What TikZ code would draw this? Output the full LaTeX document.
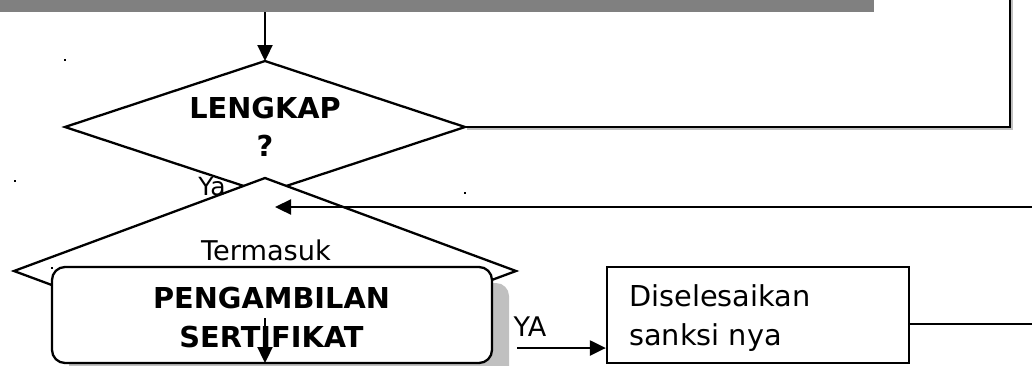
\documentclass[tikz,border=0pt]{standalone}
\usepackage{fontspec}
\setmainfont{DejaVu Sans}
\usetikzlibrary{shapes.geometric,arrows.meta}
\definecolor{bargray}{RGB}{128,128,128}
\definecolor{shadowgray}{RGB}{192,192,192}
\begin{document}
\begin{tikzpicture}[x=1pt,y=-1pt,
 line width=2.3pt,
 tip/.style={-{Triangle[length=16pt,width=15pt]}},
 dia/.style={diamond,draw,fill=white,inner sep=0pt,outer sep=0pt},
 lbl/.style={anchor=base,inner sep=0pt,font=\fontsize{28.8}{34}\selectfont},
 blbl/.style={anchor=base,inner sep=0pt,font=\fontsize{28.8}{34}\selectfont\bfseries},
 dot/.style={fill=black,inner sep=0pt,minimum size=2.5pt},
]
\useasboundingbox (0,0) rectangle (1032,365);
% top bar
\node (bar) [fill=bargray,inner sep=0pt,outer sep=0pt,minimum width=874pt,minimum height=22pt,anchor=south west] at (0,12) {};
% decision LENGKAP
\node (lengkap) [dia,minimum width=400pt,minimum height=132pt] at (265,127) {};
\coordinate (c1) at (1010,0);
\draw[shadowgray] ([shift={(1.5,1.5)}]lengkap.east) -| ([shift={(1.5,0)}]c1);
\draw (lengkap.east) -| (c1);
\draw[tip] (bar.south -| lengkap.north) -- (lengkap.north);
\node[blbl] (tlengkap) at (265,118) {LENGKAP};
\node[blbl] (tq) at (265,156) {?};
% decision Termasuk
\node (termasuk) [dia,minimum width=502pt,minimum height=186pt] at (265,271) {};
\node[lbl,font=\fontsize{25}{30}\selectfont] (tya) at (212,195) {Ya};
\coordinate (r1) at (1032,207);
\coordinate (t1) at (275,207);
\draw[tip] (r1) -- (t1);
% pengambilan box
\node (shadow) [fill=shadowgray,rounded corners=13pt,minimum width=440pt,minimum height=96pt,inner sep=0pt] at (289,331) {};
\node (ambil) [draw,fill=white,rounded corners=13pt,minimum width=440pt,minimum height=96pt,inner sep=0pt] at (272,315) {};
\node[lbl,font=\fontsize{27.2}{32}\selectfont] (ttermasuk) at (266,260) {Termasuk};
\node[blbl] (tp) at (271.5,308) {PENGAMBILAN};
\node[blbl] (ts) at (271.5,347) {SERTIFIKAT};
\coordinate (d0) at (265,318);
\coordinate (d1) at (265,363);
\draw[tip] (d0) -- (d1);
% sanksi box
\node (sanksi) [draw,minimum width=302pt,minimum height=96pt,inner sep=0pt] at (758,315) {};
\node[lbl,anchor=base west] (td) at (628,306.5) {Diselesaikan};
\node[lbl,anchor=base west] (tsn) at (628,345) {sanksi nya};
\node[lbl,font=\fontsize{27}{30}\selectfont] (tYA) at (530,336) {YA};
\coordinate (ya0) at (517,348);
\draw[tip] (ya0) -- (sanksi.west |- ya0);
\coordinate (r2) at (1032,324);
\draw (sanksi.east |- r2) -- (r2);
% stray dots
\node[dot] (p1) at (65,60) {};
\node[dot] (p2) at (15,181) {};
\node[dot] (p3) at (465,193) {};
\node[dot] (p4) at (52,268) {};
\end{tikzpicture}
\end{document}
